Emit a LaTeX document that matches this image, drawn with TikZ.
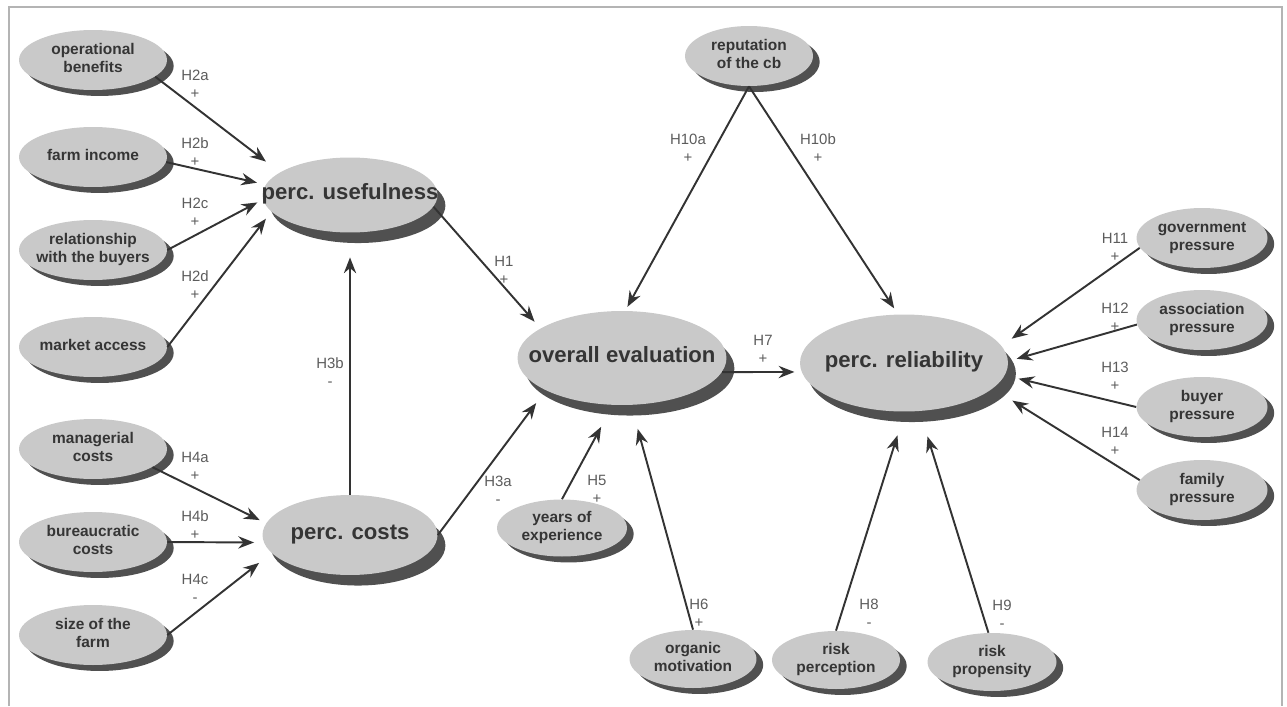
\documentclass[tikz,border=0pt]{standalone}
\usepackage{fontspec}
\setmainfont{Liberation Sans}
\usepackage{xcolor}
\usepackage{tikz}
\usetikzlibrary{arrows.meta}
\usetikzlibrary{shapes.geometric}
\usetikzlibrary{shadows}
\definecolor{fillgray}{HTML}{C9C9C9}
\definecolor{shadowgray}{HTML}{505050}
\definecolor{textgray}{HTML}{353535}
\definecolor{labelgray}{HTML}{5C5C5C}
\definecolor{framegray}{HTML}{B4B4B4}
\newcommand{\lines}[1]{\makebox[0pt]{\begin{tabular}{@{}c@{}}#1\end{tabular}}}
\tikzset{
  driver/.style={ellipse, fill=fillgray, minimum width=#1, minimum height=1.2cm, inner sep=0pt, text=textgray, font=\fontsize{8.8}{10.2}\selectfont\bfseries, general shadow={fill=shadowgray, shadow xshift=3.8pt, shadow yshift=-3.4pt}},
  driver/.default=2.96cm,
  construct/.style={ellipse, fill=fillgray, minimum width=#1, minimum height=1.5cm, inner sep=0pt, text=textgray, font=\fontsize{12.6}{14}\selectfont\bfseries, general shadow={fill=shadowgray, shadow xshift=4.5pt, shadow yshift=-6pt}},
  construct/.default=3.5cm,
  hyp/.style={align=center, text=labelgray, font=\fontsize{8.5}{10.2}\selectfont, inner sep=0pt},
  link/.style={-{Stealth[length=9pt,width=7pt,inset=3pt]}, line width=1.1pt, draw=black!80, shorten >=#1},
  link/.default=4pt,
}

\begin{document}
\begin{tikzpicture}[x=0.02cm, y=-0.02cm]
  \useasboundingbox (0,0) rectangle (1287,706);
  \draw[framegray, line width=1.5pt] (9,706) -- (9,7) -- (1282,7) -- (1282,706);

  % central constructs
  \node[construct] (pu) at (350,195) {\lines{perc. usefulness}};
  \node[construct, minimum height=1.6cm] (pc) at (350,535) {\lines{perc. costs}};
  \node[construct=4.18cm, minimum height=1.88cm] (ov) at (622,358) {\lines{overall evaluation}};
  \node[construct=4.16cm, minimum height=1.94cm] (rel) at (904,363) {\lines{perc. reliability}};

  % antecedents, left
  \node[driver] (ob) at (93,60) {\lines{operational\\benefits}};
  \node[driver] (fi) at (93,157) {\lines{farm income}};
  \node[driver] (rb) at (93,250) {\lines{relationship\\with the buyers}};
  \node[driver] (ma) at (93,347) {\lines{market access}};
  \node[driver] (mc) at (93,449) {\lines{managerial\\costs}};
  \node[driver] (bc) at (93,542) {\lines{bureaucratic\\costs}};
  \node[driver] (sf) at (93,635) {\lines{size of the\\farm}};

  % antecedents, top and bottom
  \node[driver=2.56cm] (rep) at (749,56) {\lines{reputation\\of the cb}};
  \node[driver=2.6cm, minimum height=1.14cm] (ye) at (562,528) {\lines{years of\\experience}};
  \node[driver=2.54cm, minimum height=1.16cm] (om) at (693,659) {\lines{organic\\motivation}};
  \node[driver=2.56cm, minimum height=1.16cm] (rp) at (836,660) {\lines{risk\\perception}};
  \node[driver=2.58cm, minimum height=1.16cm] (rpr) at (992,662) {\lines{risk\\propensity}};

  % antecedents, right
  \node[driver=2.62cm] (gp) at (1202,238) {\lines{government\\pressure}};
  \node[driver=2.62cm] (ap) at (1202,320) {\lines{association\\pressure}};
  \node[driver=2.62cm] (bp) at (1202,407) {\lines{buyer\\pressure}};
  \node[driver=2.62cm] (fp) at (1202,490) {\lines{family\\pressure}};

  % hypotheses
  \draw[link=10pt] (ob.-15) -- (pu.162);
  \draw[link=5pt] (fi.-4) -- (pu.173);
  \draw[link=3.5pt] (rb.east) -- (pu.183);
  \draw[link=5pt] (ma.east) -- (pu.192);
  \draw[link=4pt] (mc.-17) -- (pc.172);
  \draw[link=5.5pt] (bc.east) -- (pc.185);
  \draw[link=9pt] (sf.east) -- (pc.193);
  \draw[link=14pt] (pc.north) -- (pu.south);
  \draw[link=5pt] (pu.-8) -- (ov.160);
  \draw[link=9pt] (pc.east) -- (ov.203);
  \draw[link=14pt] (ye.north) -- (ov.259);
  \draw[link=14pt] (om.north) -- (ov.281);
  \draw[link=2.5pt] (rep.south) -- (ov.86);
  \draw[link=4pt] (rep.south) -- (rel.97);
  \draw[link=4pt] (ov.-8) -- (rel.185);
  \draw[link=14pt] (rp.north) -- (rel.271);
  \draw[link=15pt] (rpr.97) -- (rel.288);
  \draw[link=7pt] (gp.189) -- (rel.10);
  \draw[link=5pt] (ap.184) -- (rel.1);
  \draw[link=8pt] (bp.west) -- (rel.-7);
  \draw[link=13pt] (fp.171) -- (rel.-16);

  \node[hyp] (h2a) at (195,84) {H2a\\+};
  \node[hyp] (h2b) at (195,152) {H2b\\+};
  \node[hyp] (h2c) at (195,212) {H2c\\+};
  \node[hyp] (h2d) at (195,285) {H2d\\+};
  \node[hyp] (h4a) at (195,466) {H4a\\+};
  \node[hyp] (h4b) at (195,525) {H4b\\+};
  \node[hyp] (h4c) at (195,588) {H4c\\-};
  \node[hyp] (h3b) at (330,372) {H3b\\-};
  \node[hyp] (h1) at (504,270) {H1\\+};
  \node[hyp] (h3a) at (498,490) {H3a\\-};
  \node[hyp] (h5) at (597,489) {H5\\+};
  \node[hyp] (h6) at (699,613) {H6\\+};
  \node[hyp] (h10a) at (688,148) {H10a\\+};
  \node[hyp] (h10b) at (818,148) {H10b\\+};
  \node[hyp] (h7) at (763,349) {H7\\+};
  \node[hyp] (h8) at (869,613) {H8\\-};
  \node[hyp] (h9) at (1002,614) {H9\\-};
  \node[hyp] (h11) at (1115,247) {H11\\+};
  \node[hyp] (h12) at (1115,317) {H12\\+};
  \node[hyp] (h13) at (1115,376) {H13\\+};
  \node[hyp] (h14) at (1115,441) {H14\\+};
\end{tikzpicture}
\end{document}
